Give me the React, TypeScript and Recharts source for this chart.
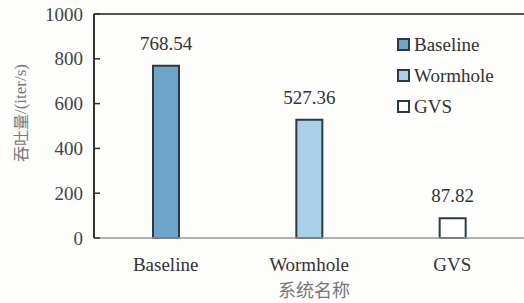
import { Bar, BarChart, Cell, LabelList, Legend, ReferenceLine, XAxis, YAxis } from "recharts";

const systems = ["Baseline", "Wormhole", "GVS"];
const throughput = [768.54, 527.36, 87.82];
const barFills = ["#6fa4ca", "#a9d0e6", "#ffffff"];
const yTicks = [0, 200, 400, 600, 800, 1000];

const data = systems.map((name, i) => ({ name, value: throughput[i] }));

const FONT = "'Liberation Serif', 'DejaVu Serif', 'Times New Roman', Times, serif";
const CJK = "'Noto Sans CJK SC', sans-serif";
const EDGE = "#2b3a44";

function YTick(props: any) {
  const { x, y, payload } = props;
  const axisX = x + 11;
  return (
    <g>
      <line x1={axisX} x2={axisX + 6} y1={y} y2={y} stroke="#333" strokeWidth={1.5} />
      <text x={x} y={y} textAnchor="end" dominantBaseline="central" fontSize={19} fill="#444" style={{ fontFamily: FONT }}>
        {payload.value}
      </text>
    </g>
  );
}

function LegendBox() {
  return (
    <div style={{ fontFamily: FONT, fontSize: 19, color: "#333", lineHeight: "31px" }}>
      {systems.map((s, i) => (
        <div key={s} style={{ display: "flex", alignItems: "center" }}>
          <span
            style={{
              display: "inline-block",
              width: 9,
              height: 9,
              background: barFills[i],
              border: `2px solid ${EDGE}`,
              marginRight: 4,
            }}
          />
          {s}
        </div>
      ))}
    </div>
  );
}

export default function App() {
  return (
    <div
      style={{
        position: "absolute",
        left: 0,
        top: 0,
        width: 524,
        height: 303,
        background: "#fdfdfb",
        fontFamily: FONT,
      }}
    >
      <BarChart width={524} height={303} data={data} margin={{ top: 14, right: 0, left: 0, bottom: 0 }}>
        <XAxis
          dataKey="name"
          height={65}
          axisLine={{ stroke: "#999", strokeWidth: 1.5 }}
          tickLine={false}
          tickMargin={14}
          tick={{ fontSize: 19, fill: "#333", style: { fontFamily: FONT } }}
          label={{
            content: () => (
              <text x={314} y={289} textAnchor="middle" dominantBaseline="central" fontSize={18} fill="#777" style={{ fontFamily: CJK }}>
                系统名称
              </text>
            ),
          }}
        />
        <YAxis
          width={94}
          domain={[0, 1000]}
          ticks={yTicks}
          interval={0}
          axisLine={{ stroke: "#333", strokeWidth: 2 }}
          tickLine={false}
          tickSize={0}
          tickMargin={11}
          tick={<YTick />}
          label={{
            content: () => (
              <text
                x={20}
                y={113}
                transform="rotate(-90 20 113)"
                textAnchor="middle"
                dominantBaseline="central"
                fontSize={16}
                fill="#777"
              >
                <tspan style={{ fontFamily: CJK }}>吞吐量</tspan>
                <tspan style={{ fontFamily: FONT }} fontSize={17}>/(iter/s)</tspan>
              </text>
            ),
          }}
        />
        <ReferenceLine y={1000} stroke="#555" strokeWidth={2} />
        <Legend
          layout="vertical"
          align="center"
          verticalAlign="middle"
          content={() => <LegendBox />}
          wrapperStyle={{ position: "absolute", left: 397, top: 29, width: 120, height: 93 }}
        />
        <Bar dataKey="value" barSize={26} stroke={EDGE} strokeWidth={2} isAnimationActive={false}>
          {data.map((d, i) => (
            <Cell key={d.name} fill={barFills[i]} />
          ))}
          <LabelList dataKey="value" position="top" offset={16} fontSize={19} fill="#333" style={{ fontFamily: FONT }} />
        </Bar>
      </BarChart>
    </div>
  );
}
